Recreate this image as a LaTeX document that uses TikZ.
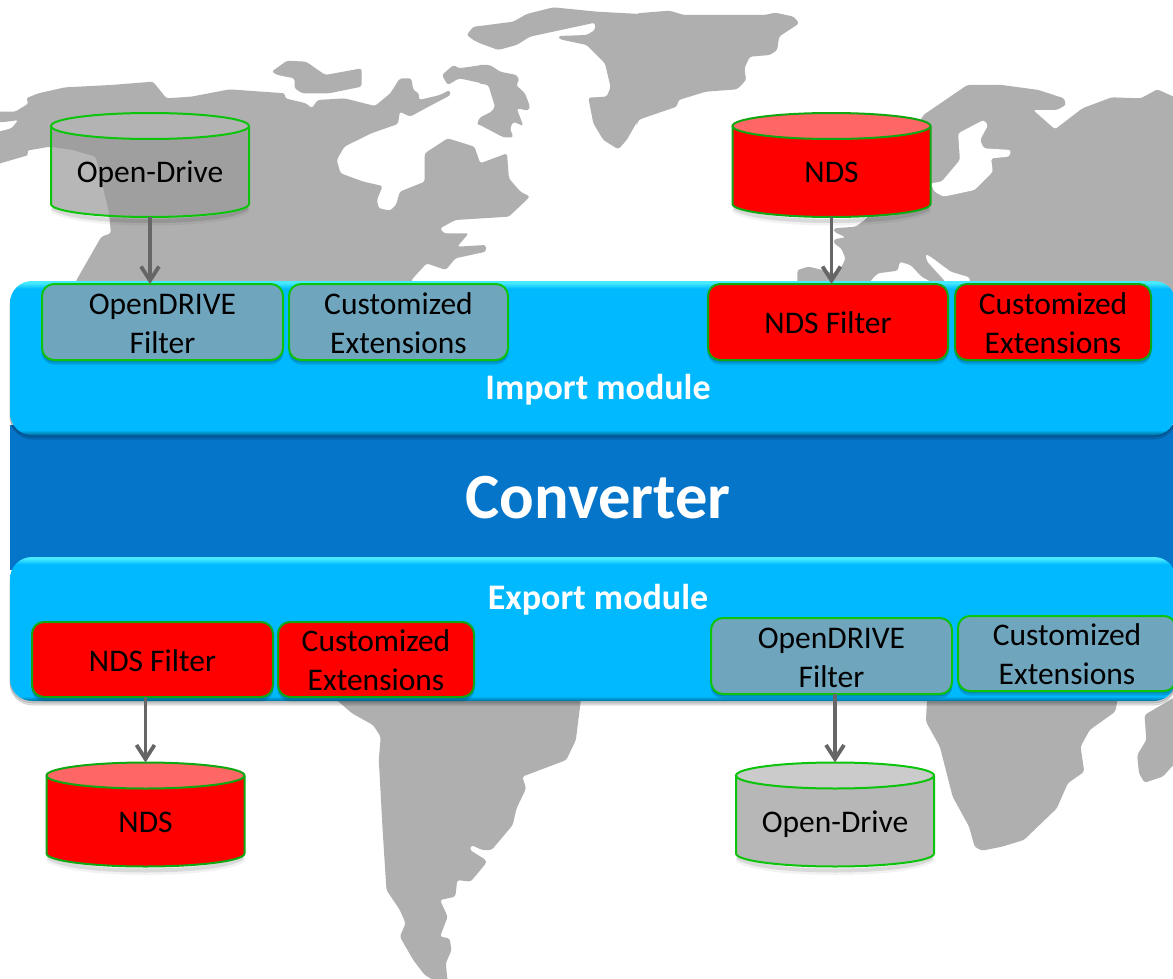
\documentclass[tikz,border=0pt]{standalone}
\usepackage{fontspec}
\setmainfont{Carlito}
\usetikzlibrary{arrows.meta}
\definecolor{mapgray}{HTML}{AFAFAF}
\definecolor{bandblue}{HTML}{00B9FF}
\definecolor{convblue}{HTML}{0575C9}
\definecolor{filtergray}{HTML}{6FA6BE}
\definecolor{edgegreen}{HTML}{0CC40C}
\definecolor{edgedark}{HTML}{10A810}
\definecolor{arrowgray}{HTML}{666666}
\pgfdeclareverticalshading{bandshade}{100bp}{color(0bp)=(black!40!bandblue); color(25bp)=(black!40!bandblue); color(26.6bp)=(bandblue); color(72.5bp)=(bandblue); color(74.4bp)=(cyan!60!white!70!bandblue); color(75bp)=(cyan!60!white!70!bandblue); color(100bp)=(cyan!60!white!70!bandblue)}
\newcommand{\tp}{\rule{0pt}{24pt}}
% one drum: name, centre x, centre y, drum style, text
\newcommand{\drumshape}[5]{%
  \begin{scope}[shift={(#2,#3)},#4]
    \draw[drumshadow,line width=7pt,opacity=.05] (-96,45) .. controls (-85,51) and (-54.7,57) .. (0,57) .. controls (54.7,57) and (85,51) .. (96,45);
    \draw[drumshadow,line width=4pt,opacity=.10] (-96,44) .. controls (-85,50) and (-54.7,56) .. (0,56) .. controls (54.7,56) and (85,50) .. (96,44);
    \path[drumbody] (-99,-39) -- (-99,39) .. controls (-99,46.2) and (-54.7,52) .. (0,52) .. controls (54.7,52) and (99,46.2) .. (99,39) -- (99,-39) .. controls (99,-31.8) and (54.7,-26) .. (0,-26) .. controls (-54.7,-26) and (-99,-31.8) .. (-99,-39) -- cycle;
    \path[drumend] (0,-39) ellipse [x radius=99,y radius=13];
    \draw[drumline] (-99,-39) -- (-99,39) .. controls (-99,46.2) and (-54.7,52) .. (0,52) .. controls (54.7,52) and (99,46.2) .. (99,39) -- (99,-39);
    \draw[drumline] (0,-39) ellipse [x radius=99,y radius=13];
    \node[drumtext] (#1) at (0,0) {\rule{0pt}{35pt}\smash{#5}};
  \end{scope}}
\tikzset{
  land/.style={fill=mapgray,draw=none,rounded corners=2.5pt},
  zleft/.style={x=1pt/2.6133,y=-1pt/3},
  zright/.style={x=1pt/2.7365,y=-1pt/3},
  zmid/.style={x=1pt/3,y=-1pt/3},
  softshade/.style={preaction={draw=black,fill=black,opacity=.10,line width=1pt,transform canvas={yshift=-4pt}},
                    preaction={draw=black,fill=black,opacity=.12,line width=1pt,transform canvas={yshift=-2pt}}},
  band/.style={shading=bandshade,rounded corners=22pt,draw=none,softshade},
  filterbox/.style={rounded corners=12pt,line width=2pt,inner sep=0pt,outer sep=0pt,align=center,
     font=\fontsize{31.5}{39}\selectfont,text=black,softshade},
  graybox/.style={filterbox,fill=filtergray,draw=edgegreen},
  redbox/.style={filterbox,fill=red,draw=edgedark},
  drumshadow/.style={draw=black,line cap=round},
  drumtext/.style={minimum width=198pt,minimum height=104pt,inner sep=0pt,outer sep=0pt,
     font=\fontsize{31.5}{36}\selectfont,text=black},
  graydrum/.style={
     drumbody/.style={fill=black!40,fill opacity=.7},
     drumend/.style={fill=black!29,fill opacity=.7},
     drumline/.style={draw=edgegreen,line width=2pt,line join=round}},
  reddrum/.style={
     drumbody/.style={fill=red},
     drumend/.style={fill=red!60!white},
     drumline/.style={draw=edgedark,line width=2pt,line join=round}},
  flow/.style={draw=arrowgray,line width=3.8pt,-{Straight Barb[length=14pt,width=18pt,line width=3.8pt]}},
  modlabel/.style={text=white,font=\fontsize{36}{40}\selectfont\bfseries},
}
\begin{document}
\begin{tikzpicture}[x=1pt,y=-1pt]
\useasboundingbox (0,0) rectangle (1173,979);
\clip (0,0) rectangle (1173,979);
\fill[white] (0,0) rectangle (1173,979);
% ---------- map ----------
\begin{scope}[zleft]
\fill[land] (-20,335)--(40,335)--(75,310)--(68,295)--(100,280)--(170,262)--(290,255)--(400,245)--(435,295)--(500,290)--(600,268)--(745,280)--(745,295)--(800,310)--(815,325)--(830,300)--(900,295)--(980,318)--(1020,280)--(1045,235)--(1075,235)--(1080,270)--(1095,280)--(1095,300)--(1150,285)--(1175,270)--(1178,285)--(1120,320)--(1072,350)--(1045,335)--(1040,372)--(970,400)--(900,440)--(880,480)--(890,520)--(950,545)--(1000,558)--(985,600)--(990,625)--(1020,632)--(1035,615)--(1045,575)--(1110,545)--(1110,460)--(1170,415)--(1240,440)--(1255,490)--(1325,460)--(1330,535)--(1360,575)--(1385,590)--(1330,650)--(1190,660)--(1150,685)--(1160,700)--(1225,700)--(1195,740)--(1270,735)--(1270,755)--(1190,775)--(1165,810)--(1115,790)--(1075,840)--(1075,900)--(180,900)--(200,840)--(240,760)--(265,710)--(290,700)--(285,640)--(275,590)--(250,470)--(190,450)--(130,440)--(70,452)--(75,465)--(-20,497)--(-20,400)--(30,385)--(48,360)--(20,365)--(-20,368)--cycle;
\fill[land] (710,215)--(750,182)--(800,185)--(850,225)--(945,205)--(945,260)--(860,280)--(790,280)--(770,265)--(770,235)--(725,225)--cycle;
\fill[land] (1155,225)--(1185,195)--(1200,205)--(1260,195)--(1260,250)--(1200,235)--(1170,255)--cycle;
\end{scope}
\begin{scope}[shift={(480,0)},zmid]
\fill[land] (0,78)--(100,65)--(140,42)--(220,22)--(350,35)--(480,42)--(480,350)--(440,420)--(415,448)--(370,420)--(340,370)--(325,293)--(380,290)--(392,262)--(375,190)--(320,135)--(240,118)--(235,108)--(320,105)--(345,90)--(345,68)--(150,110)--(110,135)--(55,150)--(0,130)--(-20,120)--(-40,105)--(-20,80)--cycle;
\fill[land] (-5,195)--(30,195)--(60,215)--(110,225)--(118,240)--(108,255)--(135,280)--(150,320)--(145,332)--(110,325)--(130,378)--(100,365)--(90,385)--(100,412)--(70,412)--(0,375)--(-10,372)--(0,352)--(35,335)--(45,320)--(25,255)--(-5,250)--cycle;
\end{scope}
\begin{scope}[shift={(600,0)},zright]
\fill[land] (100,40)--(190,32)--(230,45)--(450,45)--(480,38)--(530,50)--(545,70)--(490,110)--(485,150)--(465,165)--(410,170)--(395,205)--(400,240)--(375,268)--(290,275)--(215,300)--(210,320)--(130,350)--(105,360)--(100,380)--cycle;
\fill[land] (885,345)--(1005,255)--(1100,255)--(1200,270)--(1270,295)--(1275,315)--(1250,330)--(1185,330)--(1245,388)--(1320,325)--(1400,292)--(1480,295)--(1525,268)--(1590,300)--(1590,900)--(1010,900)--(1012,832)--(960,815)--(905,770)--(890,762)--(895,785)--(945,845)--(945,900)--(905,900)--(905,845)--(880,830)--(850,795)--(820,785)--(815,812)--(760,820)--(738,845)--(738,900)--(540,900)--(540,810)--(570,800)--(610,810)--(640,820)--(655,815)--(672,775)--(660,745)--(640,730)--(640,718)--(672,712)--(640,695)--(640,685)--(700,680)--(730,655)--cycle;
\fill[white,rounded corners=2.5pt] (905,550)--(935,545)--(985,480)--(980,400)--(1050,360)--(1062,375)--(1040,420)--(1050,445)--(1125,450)--(1120,470)--(1070,475)--(1075,515)--(1025,570)--(940,590)--(915,575)--cycle;
\end{scope}
\begin{scope}[shift={(0,680)},zleft]
\fill[land] (880,50)--(880,60)--(920,100)--(975,135)--(995,170)--(990,240)--(1000,450)--(1010,630)--(1045,690)--(1060,730)--(1045,770)--(1080,840)--(1110,885)--(1140,905)--(1170,905)--(1165,850)--(1180,810)--(1175,775)--(1150,770)--(1170,710)--(1150,660)--(1190,650)--(1195,600)--(1230,605)--(1270,550)--(1270,540)--(1228,510)--(1232,495)--(1260,510)--(1285,510)--(1340,435)--(1350,385)--(1375,325)--(1365,290)--(1480,240)--(1505,180)--(1518,60)--(1518,50)--cycle;
\end{scope}
\begin{scope}[shift={(600,680)},zright]
\fill[land] (895,50)--(892,125)--(930,200)--(965,350)--(1010,440)--(1025,500)--(1045,512)--(1100,500)--(1160,480)--(1250,385)--(1280,310)--(1325,275)--(1315,200)--(1340,150)--(1410,95)--(1418,50)--cycle;
\fill[land] (1590,40)--(1490,105)--(1495,180)--(1470,225)--(1475,280)--(1490,308)--(1540,290)--(1590,230)--cycle;
\end{scope}
% ---------- bands ----------
\fill[convblue] (10,425) rectangle (1176,570);
\path[band] (10,281) rectangle (1176,435);
\path[band] (10,557) rectangle (1176,701);
\node[modlabel] (imp) at (598,389.5) {Import module};
\node[text=white,font=\fontsize{64.5}{70}\selectfont\bfseries] (conv) at (598,497.5) {Converter};
\node[modlabel] (exp) at (598,600) {Export module};
% ---------- filter boxes ----------
\node[graybox,minimum width=241pt,minimum height=76pt] (fod1) at (162.5,322) {\tp OpenDRIVE\\Filter};
\node[graybox,minimum width=219pt,minimum height=76pt] (cex1) at (398.5,322) {\tp Customized\\Extensions};
\node[redbox,minimum width=240pt,minimum height=76pt] (fnd1) at (828,322) {\tp NDS Filter};
\node[redbox,minimum width=196pt,minimum height=76pt] (cex2) at (1053,322) {\tp Customized\\Extensions};
\node[redbox,minimum width=241pt,minimum height=75pt] (fnd2) at (152.5,659.5) {\tp NDS Filter};
\node[redbox,minimum width=196pt,minimum height=75pt] (cex3) at (376,659.5) {\tp Customized\\Extensions};
\node[graybox,minimum width=241pt,minimum height=76pt] (fod2) at (831.5,656) {\tp OpenDRIVE\\Filter};
\node[graybox,minimum width=218pt,minimum height=75pt] (cex4) at (1067,653.5) {\tp Customized\\Extensions};
% ---------- drums ----------
\drumshape{dod1}{150}{165}{graydrum}{Open-Drive}
\drumshape{dnd1}{831.5}{165}{reddrum}{NDS}
\drumshape{dnd2}{145.5}{814.5}{reddrum}{NDS}
\drumshape{dod2}{835}{814.5}{graydrum}{Open-Drive}
% ---------- connectors ----------
\draw[flow] (dod1.south) -- (dod1.south |- fod1.north);
\draw[flow] (dnd1.south) -- (dnd1.south |- fnd1.north);
\draw[flow] (dnd2.north |- fnd2.south) -- (dnd2.north);
\draw[flow] (dod2.north |- fod2.south) -- (dod2.north);
\end{tikzpicture}
\end{document}
